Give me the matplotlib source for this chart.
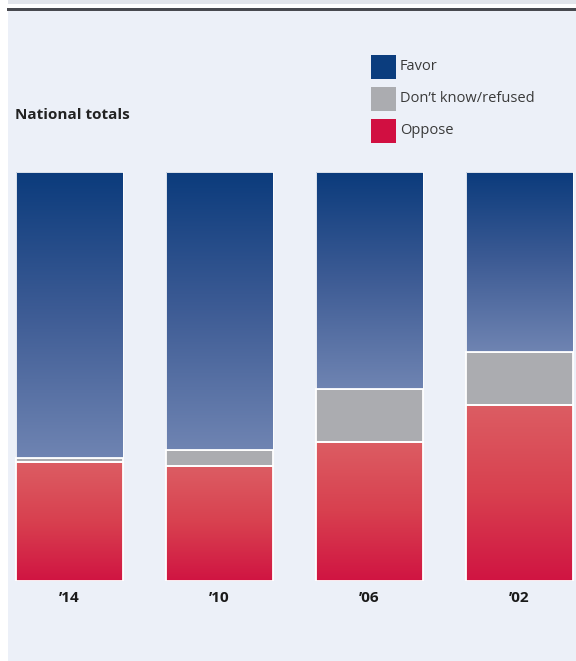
import numpy as np
import matplotlib.pyplot as plt
from matplotlib.colors import LinearSegmentedColormap
from matplotlib.patches import Rectangle

years = ["\u201914", "\u201910", "\u201906", "\u201902"]
favor = [70, 68, 53, 44]
dont_know = [1, 4, 13, 13]
oppose = [29, 28, 34, 43]

W, H = 576, 661
BG = "#ECF0F8"

fav_cmap = LinearSegmentedColormap.from_list("fav", ["#0B3B7C", "#3E5C95", "#6F84B2"])
opp_cmap = LinearSegmentedColormap.from_list("opp", ["#DC5D63", "#D8404F", "#D01442"])
grad = np.linspace(0, 1, 256).reshape(-1, 1)

fig = plt.figure(figsize=(W / 100, H / 100), dpi=100)
fig.patch.set_facecolor("white")

# panel background and top rules
fig.patches.append(Rectangle((8 / W, 0), 1, (H - 10) / H, transform=fig.transFigure,
                             facecolor=BG, edgecolor="none", zorder=-3))
fig.patches.append(Rectangle((8 / W, (H - 3.5) / H), 1, 3.5 / H, transform=fig.transFigure,
                             facecolor="#E2E5EB", edgecolor="none", zorder=-3))
fig.patches.append(Rectangle((7 / W, (H - 10.5) / H), 1, 2 / H, transform=fig.transFigure,
                             facecolor="#48494F", edgecolor="none", zorder=-2))

ax = fig.add_axes([0, (H - 581) / H, 1, 409 / H])
ax.set_facecolor("none")
spacing = 150
c0 = 69.5
ax.axis("off")

bw = 107 / spacing
x = np.arange(len(years))
for i in x:
    x0, x1 = i - bw / 2, i + bw / 2
    o, d, f = oppose[i], dont_know[i], favor[i]
    # oppose: light at top, dark at bottom
    ax.imshow(grad, cmap=opp_cmap, extent=(x0, x1, 0, o), aspect="auto",
              origin="upper", zorder=1)
    ax.bar(i, d, bw, bottom=o, color="#ABACB0", zorder=1)
    # favor: dark at top, lighter toward the bottom
    ax.imshow(grad, cmap=fav_cmap, extent=(x0, x1, o + d, o + d + f), aspect="auto",
              origin="upper", zorder=1)

ax.bar(x, oppose, bw, color="none", edgecolor="white", linewidth=1.3, zorder=2)
ax.bar(x, dont_know, bw, bottom=oppose, color="none", edgecolor="white", linewidth=1.3, zorder=2)
ax.bar(x, favor, bw, bottom=np.array(oppose) + np.array(dont_know), color="none",
       edgecolor="white", linewidth=0.6, zorder=2)
ax.set_xlim(-c0 / spacing, (W - c0) / spacing)
ax.set_ylim(0, 100)

for i, yr in enumerate(years):
    ax.text(i, -4.2, yr, ha="center", va="center", fontsize=11, fontweight="bold",
            color="#1A1A1A", family="Open Sans")

fig.text(15 / W, 1 - 115 / H, "National totals", fontsize=11, fontweight="bold",
         color="#222222", va="center", family="Open Sans")

leg_items = [("Favor", "#0B3D7E"), ("Don\u2019t know/refused", "#ABACB0"), ("Oppose", "#D10F41")]
for k, (lab, col) in enumerate(leg_items):
    yc = 67 + 32 * k
    fig.patches.append(Rectangle((371 / W, 1 - (yc + 12) / H), 25 / W, 24 / H,
                                 transform=fig.transFigure, facecolor=col, edgecolor="none"))
    fig.text(400 / W, 1 - yc / H, lab, fontsize=10.5, color="#3A3A3A", va="center",
             family="Open Sans")

fig.savefig("out.png", dpi=100)
